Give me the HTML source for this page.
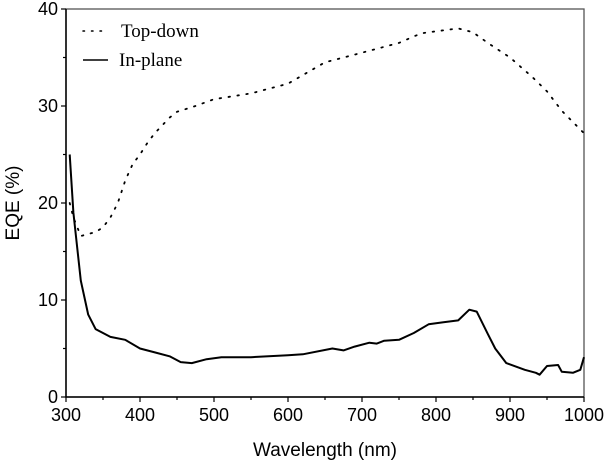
<!DOCTYPE html>
<html><head><meta charset="utf-8"><style>
html,body{margin:0;padding:0;background:#fff;}
svg{display:block;}
</style></head><body>
<svg id="chart" width="606" height="463" xmlns="http://www.w3.org/2000/svg" font-family="Liberation Sans, Arial, sans-serif">
<g id="axes"></g>
<g id="series"></g>
<g>
  <line x1="83" y1="31" x2="108" y2="31" stroke="#000" stroke-width="1.5" stroke-dasharray="1.5,7" stroke-linecap="round"/>
  <text x="121" y="37" font-family="Liberation Serif, serif" font-size="19">Top-down</text>
  <line x1="83" y1="60" x2="108" y2="60" stroke="#000" stroke-width="1.6"/>
  <text x="119" y="66" font-family="Liberation Serif, serif" font-size="19">In-plane</text>
</g>
<text transform="translate(19,203) rotate(-90)" text-anchor="middle" font-size="19">EQE (%)</text>
<text x="325" y="456" text-anchor="middle" font-size="19">Wavelength (nm)</text>
</svg>
<script>
const xTicks=[300,400,500,600,700,800,900,1000];
const yTicks=[0,10,20,30,40];
const topDownX=[305,310,320,340,350,360,370,380,390,400,410,420,430,440,450,475,500,550,600,650,700,750,780,800,830,850,870,900,930,950,970,1000];
const topDownY=[20,18.5,16.6,17,17.5,18.5,20,22.3,24,25,26.2,27.2,28,28.8,29.4,30,30.7,31.3,32.3,34.5,35.5,36.5,37.5,37.7,38,37.6,36.5,35,33,31.5,29.5,27.2];
const inPlaneX=[305,310,320,330,340,360,380,400,420,440,455,470,490,510,550,600,620,660,675,690,710,720,730,750,770,790,810,830,845,855,870,880,895,920,935,940,950,965,970,985,995,1000];
const inPlaneY=[25,19,12,8.5,7,6.2,5.9,5,4.6,4.2,3.6,3.5,3.9,4.1,4.1,4.3,4.4,5.0,4.8,5.2,5.6,5.5,5.8,5.9,6.6,7.5,7.7,7.9,9.0,8.8,6.5,5,3.5,2.8,2.5,2.3,3.2,3.3,2.6,2.5,2.8,4.1];
const X0=66,X1=584,Y0=397,Y1=9;
const xs=v=>X0+(v-300)/700*(X1-X0);
const ys=v=>Y0-v/40*(Y0-Y1);
const NS='http://www.w3.org/2000/svg';
const axes=document.getElementById('axes');
const series=document.getElementById('series');
function mk(tag,attrs,parent){const e=document.createElementNS(NS,tag);for(const k in attrs)e.setAttribute(k,attrs[k]);parent.appendChild(e);return e;}
const frame=mk('rect',{x:X0,y:Y1,width:X1-X0,height:Y0-Y1,fill:'none',stroke:'#555','stroke-width':1.3},axes);


const la=mk('path',{d:`M${X0},${Y1}V${Y0}H${X1}`,fill:'none',stroke:'#000','stroke-width':1.5},axes);


for(let v=300;v<=1000;v+=50){const x=xs(v);const l=mk('line',{x1:x,y1:Y0,x2:x,y2:Y0+(v%100?3:5),stroke:'#000','stroke-width':1.2},axes);

}
for(let v=0;v<=40;v+=5){const y=ys(v);const l=mk('line',{x1:X0,y1:y,x2:X0-(v%10?3:5),y2:y,stroke:'#000','stroke-width':1.2},axes);

}
xTicks.forEach(v=>{const t=mk('text',{x:xs(v),y:Y0+24,'text-anchor':'middle','font-size':18},axes);t.textContent=v;

});
yTicks.forEach(v=>{const t=mk('text',{x:X0-8,y:ys(v)+6,'text-anchor':'end','font-size':18},axes);t.textContent=v;

});
const path=(X,Y)=>X.map((x,i)=>(i?'L':'M')+xs(x).toFixed(1)+','+ys(Y[i]).toFixed(1)).join('');
const td=mk('path',{d:path(topDownX,topDownY),fill:'none',stroke:'#000','stroke-width':1.8,'stroke-dasharray':'1.5,7.5','stroke-linecap':'round'},series);


const ip=mk('path',{d:path(inPlaneX,inPlaneY),fill:'none',stroke:'#000','stroke-width':2,'stroke-linejoin':'round'},series);


</script>
</body></html>
